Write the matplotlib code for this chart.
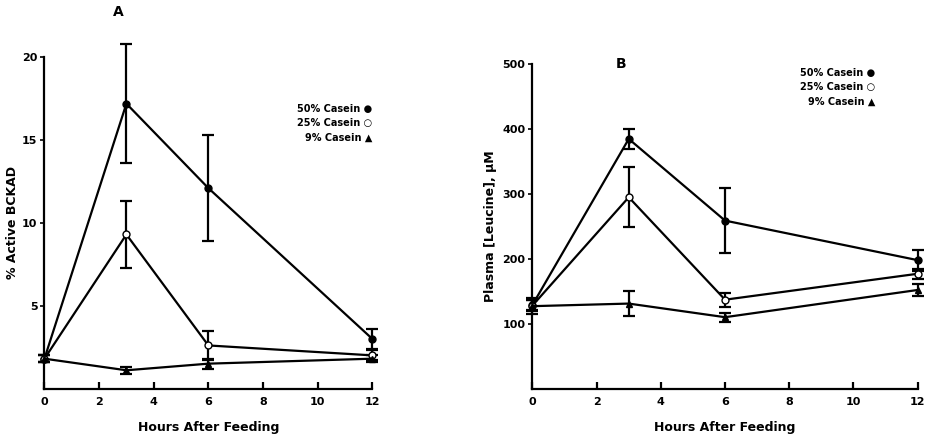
import matplotlib.pyplot as plt

hours = [0, 3, 6, 12]

# Panel A: % active BCKAD
a50 = [1.8, 17.2, 12.1, 3.0]
a50_err = [0.2, 3.6, 3.2, 0.6]
a25 = [1.8, 9.3, 2.6, 2.0]
a25_err = [0.2, 2.0, 0.9, 0.3]
a9 = [1.8, 1.1, 1.5, 1.8]
a9_err = [0.2, 0.2, 0.3, 0.2]

# Panel B: plasma leucine, uM
b50 = [129, 385, 259, 198]
b50_err = [8, 15, 50, 16]
b25 = [128, 295, 137, 177]
b25_err = [8, 46, 11, 8]
b9 = [127, 131, 110, 152]
b9_err = [12, 19, 7, 9]

plt.rcParams['font.family'] = 'DejaVu Sans'
plt.rcParams['font.weight'] = 'bold'

fig = plt.figure(figsize=(9.26, 4.44), dpi=100)
axA = fig.add_axes([0.048, 0.125, 0.354, 0.746])
axB = fig.add_axes([0.575, 0.125, 0.416, 0.73])

def draw(ax, series):
    for y, e, mfc, mk in series:
        ax.errorbar(hours, y, yerr=e, color='black', lw=1.6, capsize=4, capthick=1.6,
                    marker=mk, ms=5, mfc=mfc, mec='black', clip_on=False, zorder=3)
    for s in ['top', 'right']:
        ax.spines[s].set_visible(False)
    for s in ['left', 'bottom']:
        ax.spines[s].set_linewidth(1.6)
    ax.set_xlim(0, 12)
    ax.set_xticks([0, 2, 4, 6, 8, 10, 12])
    ax.tick_params(axis='x', direction='in', length=5, width=1.6, labelsize=8, pad=6)
    ax.tick_params(axis='y', direction='out', length=3, width=1.2, labelsize=8, pad=2)
    ax.set_xlabel('Hours After Feeding', fontsize=9, fontweight='bold', labelpad=10)

draw(axA, [(a50, a50_err, 'black', 'o'), (a25, a25_err, 'white', 'o'), (a9, a9_err, 'black', '^')])
axA.set_ylim(0, 20)
axA.set_yticks([5, 10, 15, 20])
axA.set_ylabel('% Active BCKAD', fontsize=9, fontweight='bold', labelpad=2)
axA.text(2.5, 22.5, 'A', fontsize=10, fontweight='bold')
axA.text(1.0, 0.86, '50% Casein ●\n25% Casein ○\n9% Casein ▲', transform=axA.transAxes,
         ha='right', va='top', fontsize=7, fontweight='bold', linespacing=1.6)

draw(axB, [(b50, b50_err, 'black', 'o'), (b25, b25_err, 'white', 'o'), (b9, b9_err, 'black', '^')])
axB.set_ylim(0, 500)
axB.set_yticks([100, 200, 300, 400, 500])
axB.set_ylabel('Plasma [Leucine], μM', fontsize=9, fontweight='bold', labelpad=4)
axB.text(2.6, 495, 'B', fontsize=10, fontweight='bold')
axB.text(0.89, 0.99, '50% Casein ●\n25% Casein ○\n9% Casein ▲', transform=axB.transAxes,
         ha='right', va='top', fontsize=7, fontweight='bold', linespacing=1.6)

fig.savefig('out.png', dpi=100)
